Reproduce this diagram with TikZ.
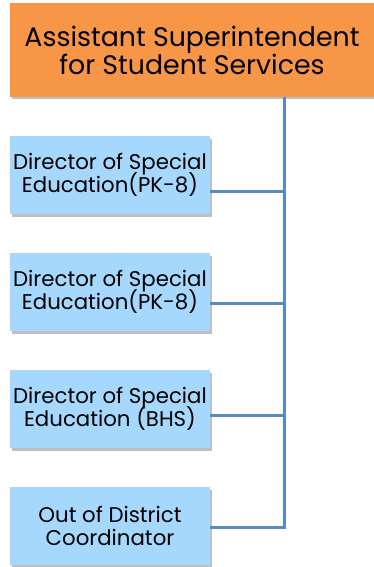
\documentclass[tikz,border=0pt]{standalone}
\usepackage{fontspec}
\setmainfont{Poppins}
\usetikzlibrary{shadows}
\definecolor{orangebox}{HTML}{F79646}
\definecolor{bluebox}{HTML}{A6D8FE}
\definecolor{linkcol}{HTML}{5A88C6}
\newcommand{\mytightlines}{\lineskiplimit=-100pt\relax\lineskip=0pt\relax}
\tikzset{
  boxshadow/.style={drop shadow={shadow xshift=2pt, shadow yshift=-2.5pt, fill=black, opacity=0.25}},
  topbox/.style={fill=orangebox, boxshadow, minimum width=364pt, minimum height=94pt,
    align=center, inner sep=0pt, font=\fontsize{26.8}{28}\selectfont\mytightlines},
  subbox/.style={fill=bluebox, boxshadow, minimum width=200pt, minimum height=78pt,
    align=center, inner sep=0pt, font=\fontsize{21.3}{22.5}\selectfont\mytightlines},
  link/.style={draw=linkcol, line width=3pt}
}
\begin{document}
\begin{tikzpicture}[x=1pt,y=-1pt]
\useasboundingbox (0,0) rectangle (374,567);
\node[topbox] (top) at (192,50) {Assistant Superintendent\\for Student Services};
\node[subbox] (b1) at (110,175) {Director of Special\\Education(PK-8)};
\node[subbox] (b2) at (110,292) {Director of Special\\Education(PK-8)};
\node[subbox] (b3) at (110,409) {Director of Special\\Education (BHS)};
\node[subbox] (b4) at (110,526) {Out of District\\Coordinator};
\coordinate (j1) at (284,191);
\coordinate (j2) at (284,303);
\coordinate (j3) at (284,415);
\coordinate (j4) at (284,527);
\draw[link] (top.south -| j1) -- (j4);
\draw[link] (b1.east |- j1) -- (j1);
\draw[link] (b2.east |- j2) -- (j2);
\draw[link] (b3.east |- j3) -- (j3);
\draw[link] (b4.east |- j4) -- ([xshift=1.5pt]j4);
\end{tikzpicture}
\end{document}
